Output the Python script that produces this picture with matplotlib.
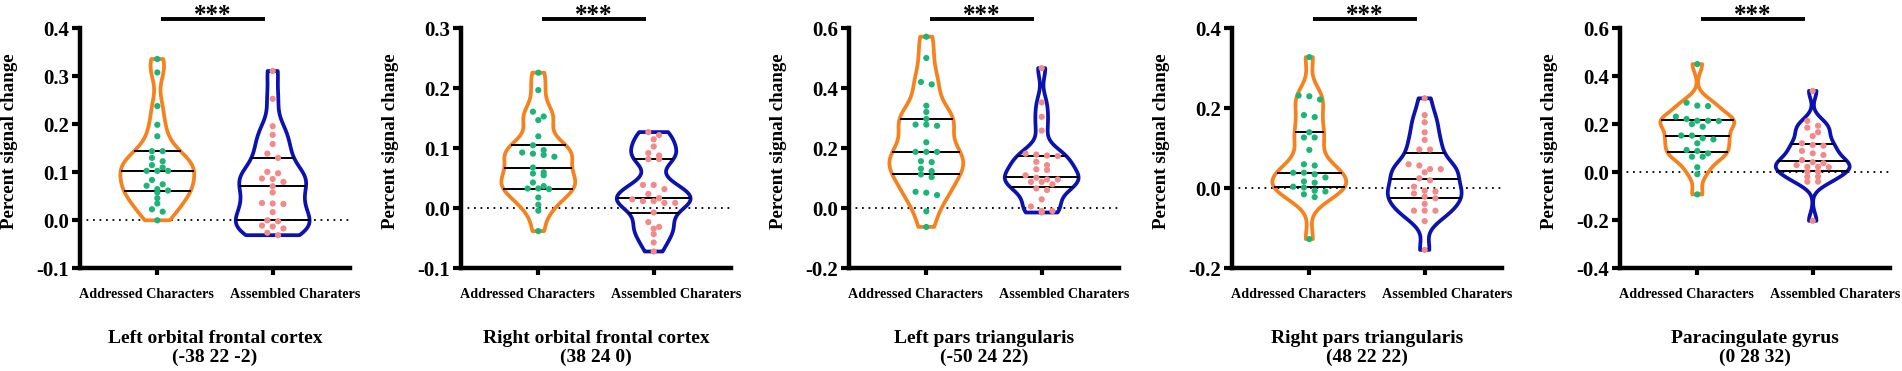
import numpy as np
import matplotlib
matplotlib.use("Agg")
import matplotlib.pyplot as plt
import matplotlib.transforms as mtransforms
from matplotlib import cbook, mlab

plt.rcParams['font.family'] = ['Liberation Serif', 'DejaVu Serif']
plt.rcParams['font.weight'] = 'bold'
plt.rcParams['axes.unicode_minus'] = False

GROUPS = ['Addressed Characters', 'Assembled Charaters']
REGIONS = ['Left orbital frontal cortex', 'Right orbital frontal cortex',
           'Left pars triangularis', 'Right pars triangularis', 'Paracingulate gyrus']
MNI = ['(-38 22 -2)', '(38 24 0)', '(-50 24 22)', '(48 22 22)', '(0 28 32)']
YLIMS = [(-0.1, 0.4), (-0.1, 0.3), (-0.2, 0.6), (-0.2, 0.4), (-0.4, 0.6)]
YSTEPS = [0.1, 0.1, 0.2, 0.2, 0.2]

# percent signal change per subject
addressed_lofc = [0.336, 0.308, 0.238, 0.199, 0.175, 0.144, 0.144, 0.130, 0.115, 0.123,
                  0.103, 0.103, 0.103, 0.110, 0.084, 0.072, 0.075, 0.058, 0.062, 0.065,
                  0.046, 0.035, 0.018, 0.023, 0.0]
assembled_lofc = [0.311, 0.253, 0.196, 0.178, 0.159, 0.139, 0.130, 0.098, 0.101, 0.080,
                  0.086, 0.087, 0.071, 0.058, 0.036, 0.034, 0.035, 0.017, 0.0, -0.002,
                  -0.011, -0.013, -0.017, -0.031, -0.026]
addressed_rofc = [0.226, 0.197, 0.161, 0.153, 0.147, 0.120, 0.105, 0.097, 0.089, 0.091,
                  0.093, 0.086, 0.060, 0.068, 0.055, 0.058, 0.043, 0.037, 0.032, 0.033,
                  0.033, 0.018, 0.006, -0.004, -0.038]
assembled_rofc = [0.127, 0.122, 0.115, 0.103, 0.092, 0.082, 0.082, 0.088, 0.039, 0.032,
                  0.039, 0.024, 0.017, 0.009, 0.015, 0.009, 0.012, 0.012, -0.007, -0.023,
                  -0.034, -0.031, -0.043, -0.057, -0.072]
addressed_lpt = [0.572, 0.501, 0.421, 0.413, 0.342, 0.321, 0.298, 0.279, 0.279, 0.275,
                 0.220, 0.188, 0.188, 0.188, 0.157, 0.154, 0.132, 0.124, 0.113, 0.104,
                 0.052, 0.055, 0.044, -0.010, -0.062]
assembled_lpt = [0.467, 0.353, 0.305, 0.259, 0.174, 0.176, 0.179, 0.182, 0.144, 0.155,
                 0.130, 0.128, 0.102, 0.110, 0.096, 0.096, 0.080, 0.088, 0.088, 0.061,
                 0.066, 0.030, 0.006, -0.014, -0.009, -0.009]
addressed_rpt = [0.328, 0.232, 0.230, 0.222, 0.183, 0.178, 0.140, 0.127, 0.127, 0.096,
                 0.057, 0.060, 0.039, 0.035, 0.039, 0.027, 0.014, 0.017, 0.002, 0.004,
                 -0.008, -0.006, -0.015, -0.022, -0.127]
assembled_rpt = [0.225, 0.183, 0.165, 0.140, 0.121, 0.097, 0.097, 0.060, 0.057, 0.048,
                 0.048, 0.040, 0.025, 0.020, 0.004, -0.008, -0.006, -0.013, -0.021, -0.025,
                 -0.039, -0.056, -0.056, -0.056, -0.082, -0.154]
addressed_pcg = [0.451, 0.290, 0.276, 0.278, 0.215, 0.222, 0.232, 0.214, 0.215, 0.201,
                 0.190, 0.142, 0.137, 0.153, 0.153, 0.121, 0.089, 0.093, 0.079, 0.065,
                 0.065, 0.021, -0.008, -0.092]
assembled_pcg = [0.339, 0.194, 0.214, 0.167, 0.186, 0.151, 0.121, 0.114, 0.111, 0.089,
                 0.079, 0.072, 0.051, 0.042, 0.030, 0.021, 0.038, 0.023, 0.023, 0.003,
                 0.003, -0.018, -0.018, -0.039, -0.039, -0.202]

ADDRESSED = [addressed_lofc, addressed_rofc, addressed_lpt, addressed_rpt, addressed_pcg]
ASSEMBLED = [assembled_lofc, assembled_rofc, assembled_lpt, assembled_rpt, assembled_pcg]

ORANGE = '#F5821F'
BLUE = '#0B12B0'
GREEN = '#1DB577'
PINK = '#F28A8A'

W, H = 1902, 371
AX_LEFT = [80, 461, 849, 1232, 1620]
AX_W, AX_BOT, AX_H = 270, 268.3, 240
VW = 0.64
BW = 0.3


def swarm_x(vals, pos, ybin, step):
    # group points with nearly equal values and spread them sideways
    order = np.argsort(vals)[::-1]
    xs = np.zeros(len(vals))
    groups, cur = [], [order[0]]
    for k in order[1:]:
        if vals[cur[0]] - vals[k] < ybin:
            cur.append(k)
        else:
            groups.append(cur)
            cur = [k]
    groups.append(cur)
    for g in groups:
        n = len(g)
        for j, k in enumerate(g):
            xs[k] = pos + (j - (n - 1) / 2) * step
    return xs


fig = plt.figure(figsize=(W / 100, H / 100), dpi=100)

for i in range(5):
    ax = fig.add_axes([AX_LEFT[i] / W, 1 - AX_BOT / H, AX_W / W, AX_H / H])
    ymin, ymax = YLIMS[i]
    data = [np.array(ADDRESSED[i]), np.array(ASSEMBLED[i])]

    stats = cbook.violin_stats(data, lambda x, c: mlab.GaussianKDE(x, BW).evaluate(c))
    parts = ax.violin(stats, positions=[1, 2], widths=VW, showextrema=False)
    for body, ec in zip(parts['bodies'], [ORANGE, BLUE]):
        body.set_facecolor('none')
        body.set_alpha(1)
        body.set_edgecolor(ec)
        body.set_linewidth(2.7)
        body.set_zorder(2)

    ax.axhline(0, color='k', lw=1.3, ls=(0, (1, 2.6)), zorder=1)

    px_per_unit = AX_H / (ymax - ymin)
    for pos, d, st, col in zip([1, 2], data, stats, [GREEN, PINK]):
        q = np.percentile(d, [25, 50, 75])
        hw = np.interp(q, st['coords'], st['vals']) / st['vals'].max() * VW / 2
        ax.hlines(q, pos - hw, pos + hw, color='k', lw=1.4, zorder=3)
        xs = swarm_x(d, pos, 5.0 / px_per_unit, 0.093)
        ax.scatter(xs, d, s=20, color=col, edgecolors='none', zorder=4)

    ax.set_xlim(0.33, 2.67)
    ax.set_ylim(ymin, ymax)
    ticks = np.round(np.arange(ymin, ymax + 1e-9, YSTEPS[i]), 1) + 0.0
    ax.set_yticks(ticks, [f'{t:.1f}' for t in ticks])
    ax.set_xticks([1, 2], GROUPS)
    for s in ['top', 'right']:
        ax.spines[s].set_visible(False)
    for s in ['left', 'bottom']:
        ax.spines[s].set_linewidth(3.2)
    ax.tick_params(axis='y', direction='out', length=6, width=3, labelsize=15, pad=2)
    ax.tick_params(axis='x', direction='out', length=5, width=3, labelsize=10.2, pad=9)
    # group labels sit a little apart from their ticks in the original
    for lab, dx in zip(ax.get_xticklabels(), [-0.11, 0.22]):
        lab.set_transform(lab.get_transform() +
                          mtransforms.ScaledTranslation(dx, 0, fig.dpi_scale_trans))
    ax.set_ylabel('Percent signal change', fontsize=13.7, fontweight='bold')
    ax.yaxis.set_label_coords(-0.228, 0.53)

    trans = mtransforms.blended_transform_factory(ax.transData, ax.transAxes)
    ax.plot([1.03, 1.93], [1.04, 1.04], transform=trans, color='k', lw=2.8,
            clip_on=False, solid_capstyle='butt')
    ax.text(1.48, 1.027, '***', transform=trans, ha='center', va='baseline',
            fontsize=18, fontweight='bold')

    ax.text(0.5, -0.311, REGIONS[i], transform=ax.transAxes,
            ha='center', va='baseline', fontsize=14, fontweight='bold')
    ax.text(0.5, -0.39, MNI[i], transform=ax.transAxes,
            ha='center', va='baseline', fontsize=14, fontweight='bold')

fig.savefig('out.png', dpi=100)
